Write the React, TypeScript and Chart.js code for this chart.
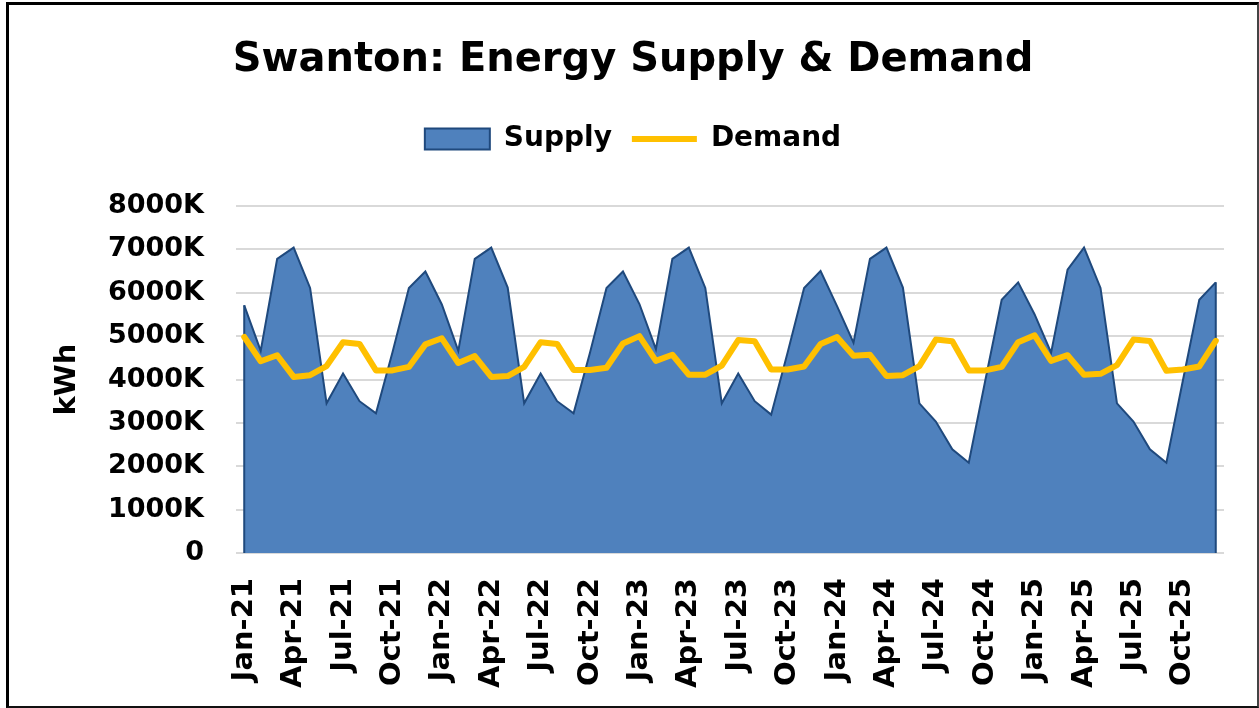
import React, { useEffect, useRef } from 'react';
import { Chart, registerables } from 'chart.js';

Chart.register(...registerables);

const MONTHS = ['Jan', 'Feb', 'Mar', 'Apr', 'May', 'Jun', 'Jul', 'Aug', 'Sep', 'Oct', 'Nov', 'Dec'];
const YEARS = ['21', '22', '23', '24', '25'];
const categories: string[] = YEARS.flatMap((y) => MONTHS.map((m) => `${m}-${y}`));

// Supply, thousands of kWh (K)
const supply2021 = [5710, 4660, 6780, 7040, 6110, 3450, 4140, 3500, 3220, 4620, 6110, 6490];
const supply2022 = [5730, 4660, 6780, 7040, 6120, 3450, 4140, 3500, 3220, 4620, 6110, 6490];
const supply2023 = [5740, 4700, 6780, 7040, 6110, 3450, 4140, 3500, 3190, 4620, 6110, 6500];
const supply2024 = [5690, 4850, 6780, 7040, 6120, 3450, 3030, 2390, 2080, 3970, 5840, 6240];
const supply2025 = [5500, 4620, 6530, 7040, 6110, 3450, 3030, 2390, 2080, 3970, 5840, 6240];

// Demand, thousands of kWh (K)
const demand2021 = [4980, 4420, 4560, 4060, 4100, 4310, 4860, 4820, 4210, 4210, 4290, 4810];
const demand2022 = [4950, 4380, 4540, 4060, 4080, 4290, 4860, 4820, 4220, 4220, 4270, 4830];
const demand2023 = [5000, 4430, 4570, 4110, 4110, 4320, 4910, 4880, 4230, 4230, 4300, 4820];
const demand2024 = [4980, 4550, 4570, 4080, 4100, 4310, 4920, 4880, 4210, 4210, 4290, 4860];
const demand2025 = [5020, 4430, 4560, 4110, 4130, 4330, 4920, 4890, 4200, 4230, 4300, 4890];

const supply = [...supply2021, ...supply2022, ...supply2023, ...supply2024, ...supply2025];
const demand = [...demand2021, ...demand2022, ...demand2023, ...demand2024, ...demand2025];

const yTicks = [0, 1000, 2000, 3000, 4000, 5000, 6000, 7000, 8000];

const FONT = '"DejaVu Sans", Verdana, sans-serif';

// Strokes the vertical side edges of the Supply area (as Excel's area outline does)
const areaEdges = {
  id: 'areaEdges',
  afterDatasetDraw(chart: any, args: any) {
    if (args.index !== 0) return;
    const meta = chart.getDatasetMeta(0);
    const pts = meta.data;
    if (!pts.length) return;
    const y0 = chart.scales.y.getPixelForValue(0);
    const ctx = chart.ctx;
    ctx.save();
    ctx.strokeStyle = '#1F497D';
    ctx.lineWidth = 2;
    ctx.beginPath();
    const first = pts[0];
    const last = pts[pts.length - 1];
    ctx.moveTo(first.x, first.y);
    ctx.lineTo(first.x, y0);
    ctx.moveTo(last.x, last.y);
    ctx.lineTo(last.x, y0);
    ctx.stroke();
    ctx.restore();
  },
};

export default function App() {
  const canvasRef = useRef<HTMLCanvasElement | null>(null);

  useEffect(() => {
    document.body.style.margin = '0';
    const canvas = canvasRef.current;
    if (!canvas) return;
    const chart = new Chart(canvas, {
      type: 'line',
      data: {
        labels: categories,
        datasets: [
          {
            label: 'Supply',
            data: supply,
            fill: 'origin',
            backgroundColor: '#4F81BD',
            borderColor: '#1F497D',
            borderWidth: 2,
            pointRadius: 0,
            pointStyle: 'rect',
            tension: 0,
            order: 2,
          },
          {
            label: 'Demand',
            data: demand,
            fill: false,
            backgroundColor: '#FFC000',
            borderColor: '#FFC000',
            borderWidth: 6,
            borderCapStyle: 'round',
            borderJoinStyle: 'round',
            pointRadius: 0,
            pointStyle: 'line',
            tension: 0,
            order: 1,
          },
        ],
      },
      plugins: [areaEdges],
      options: {
        responsive: false,
        animation: false,
        devicePixelRatio: 1,
        layout: { padding: { top: 0, left: 42, right: 35, bottom: 18 } },
        plugins: {
          title: {
            display: true,
            text: 'Swanton: Energy Supply & Demand',
            color: '#000',
            font: { family: FONT, size: 40, weight: 'bold', lineHeight: 1.2 },
            padding: { top: 37, bottom: 20 },
          },
          subtitle: {
            display: true,
            text: '',
            position: 'top',
            weight: 500,
            font: { size: 1, lineHeight: 1 },
            padding: { top: 42, bottom: 0 },
          },
          legend: {
            display: true,
            position: 'top',
            align: 'center',
            labels: {
              usePointStyle: true,
              pointStyleWidth: 65,
              boxHeight: 21,
              padding: 20,
              color: '#000',
              font: { family: FONT, size: 28, weight: 'bold' },
              sort: (a: any, b: any) => a.datasetIndex - b.datasetIndex,
            },
          },
          tooltip: { enabled: false },
        },
        scales: {
          x: {
            offset: true,
            grid: { display: false, drawTicks: false },
            border: { display: false },
            ticks: {
              autoSkip: false,
              maxRotation: 90,
              minRotation: 90,
              padding: 25,
              color: '#000',
              font: { family: FONT, size: 29, weight: 'bold' },
              callback: (_v: any, i: number) => (i % 3 === 0 ? categories[i] : ''),
            },
            afterFit: (scale: any) => {
              scale.height = 708 - 553 - 18;
              scale.paddingRight = 0;
              scale.paddingLeft = 0;
            },
          },
          y: {
            min: 0,
            max: 8000,
            grid: { color: '#D9D9D9', lineWidth: 2, drawTicks: false },
            border: { display: false },
            afterBuildTicks: (scale: any) => {
              scale.ticks = yTicks.map((v) => ({ value: v }));
            },
            ticks: {
              padding: 32,
              color: '#000',
              font: { family: FONT, size: 27, weight: 'bold' },
              callback: (v: any) => (Number(v) === 0 ? '0' : `${v}K`),
            },
            title: {
              display: true,
              text: 'kWh',
              color: '#000',
              font: { family: FONT, size: 29, weight: 'bold' },
              padding: { top: 8, bottom: 0 },
            },
            afterFit: (scale: any) => {
              scale.width = 236 - 42;
            },
          },
        },
      },
    });
    return () => chart.destroy();
  }, []);

  return (
    <div style={{ position: 'fixed', left: 0, top: 0, width: 1259, height: 708, background: '#fff' }}>
      <canvas ref={canvasRef} width={1259} height={708} style={{ position: 'absolute', left: 0, top: 0 }} />
      <div
        style={{
          position: 'absolute',
          left: 6,
          top: 2,
          width: 1253,
          height: 706,
          boxSizing: 'border-box',
          borderTop: '3px solid #000',
          borderLeft: '3px solid #000',
          borderRight: '2px solid #444',
          borderBottom: '2px solid #111',
          pointerEvents: 'none',
        }}
      />
    </div>
  );
}
